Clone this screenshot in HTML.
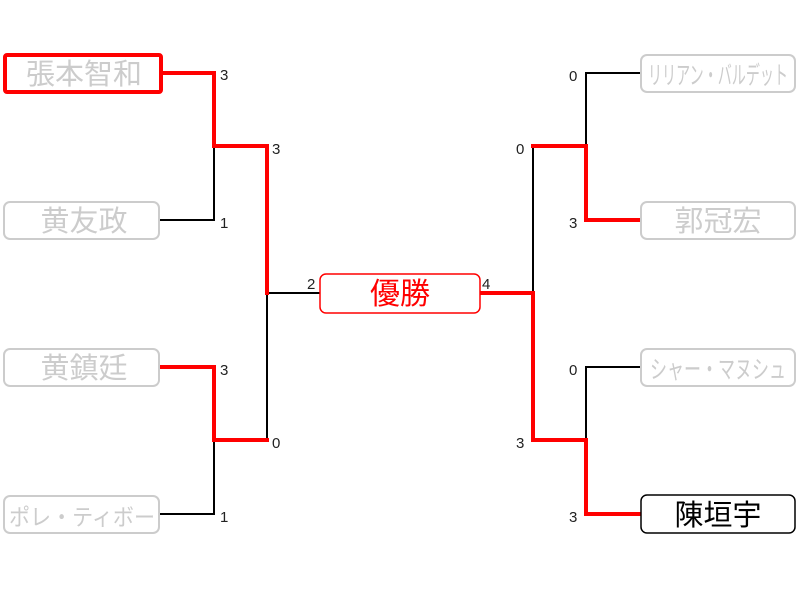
<!DOCTYPE html>
<html><head><meta charset="utf-8"><style>body{margin:0;background:#fff}svg{display:block}</style></head>
<body>
<svg width="800" height="600" xmlns="http://www.w3.org/2000/svg" font-family="'Liberation Sans','Noto Sans CJK JP',sans-serif">
<g fill="none" stroke-linecap="square">
<g stroke="#000" stroke-width="2">
<polyline points="214,146 214,220 160,220"/>
<polyline points="214,440 214,514 160,514"/>
<polyline points="267,293 267,440"/>
<line x1="267" y1="293" x2="320" y2="293"/>
<polyline points="640,73 586,73 586,146"/>
<polyline points="640,367 586,367 586,440"/>
<polyline points="533,146 533,293"/>
</g>
<g stroke="#f00" stroke-width="4">
<polyline points="160,73 214,73 214,146 267,146 267,293"/>
<polyline points="160,367 214,367 214,440 267,440"/>
<polyline points="640,220 586,220 586,146 533,146"/>
<polyline points="640,514 586,514 586,440 533,440"/>
<polyline points="480,293 533,293 533,440"/>
</g>
</g>
<g fill="#fff" stroke="#ccc" stroke-width="2">
<rect x="4" y="202" width="155" height="37" rx="6"/>
<rect x="4" y="349" width="155" height="37" rx="6"/>
<rect x="4" y="496" width="155" height="37" rx="6"/>
<rect x="641" y="55" width="154" height="37" rx="6"/>
<rect x="641" y="202" width="154" height="37" rx="6"/>
<rect x="641" y="349" width="154" height="37" rx="6"/>
</g>
<rect x="5" y="55" width="156" height="37" rx="2" fill="#fff" stroke="#f00" stroke-width="4"/>
<rect x="320" y="274" width="160" height="39" rx="6" fill="#fff" stroke="#f00" stroke-width="1.5"/>
<rect x="641" y="495" width="154" height="38" rx="6" fill="#fff" stroke="#000" stroke-width="1.5"/>
<g font-size="29" text-anchor="middle" fill="#ccc">
<text x="84" y="84">張本智和</text>
<text x="84" y="231">黄友政</text>
<text x="84" y="378">黄鎮廷</text>
<text x="82" y="525" font-size="23" textLength="146" lengthAdjust="spacingAndGlyphs">ポレ・ティボー</text>
<text x="718" y="84" font-size="25" textLength="140" lengthAdjust="spacingAndGlyphs">リリアン・バルデット</text>
<text x="718" y="231">郭冠宏</text>
<text x="718" y="378" font-size="25" textLength="136" lengthAdjust="spacingAndGlyphs">シャー・マヌシュ</text>
<text x="718" y="525" fill="#000">陳垣宇</text>
<text x="400" y="304" fill="#f00" font-size="30">優勝</text>
</g>
<g font-size="15" fill="#222">
<text x="220" y="80">3</text>
<text x="272" y="154">3</text>
<text x="220" y="228">1</text>
<text x="220" y="375">3</text>
<text x="272" y="448">0</text>
<text x="220" y="522">1</text>
<text x="307" y="289">2</text>
<text x="482" y="289">4</text>
<text x="569" y="81">0</text>
<text x="516" y="154">0</text>
<text x="569" y="228">3</text>
<text x="569" y="375">0</text>
<text x="516" y="448">3</text>
<text x="569" y="522">3</text>
</g>
</svg>
</body></html>
